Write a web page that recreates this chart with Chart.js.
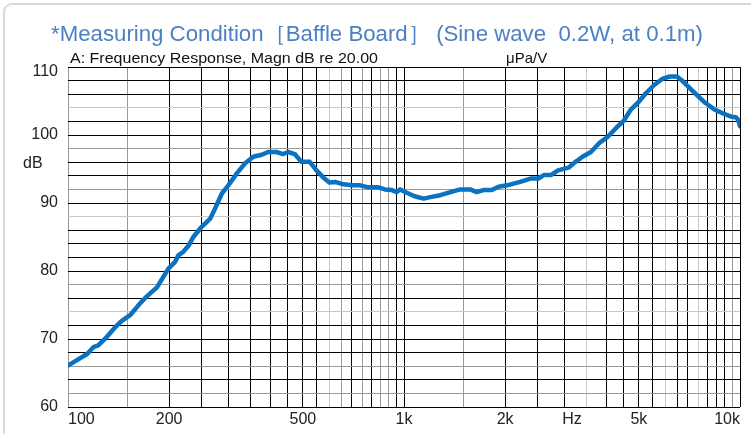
<!DOCTYPE html>
<html>
<head>
<meta charset="utf-8">
<script src="https://cdn.jsdelivr.net/npm/chart.js@4"></script>
<style>
  html, body { margin: 0; padding: 0; background: #fff; }
  #wrap { width: 751px; height: 434px; position: relative; }
</style>
</head>
<body>
<div id="wrap"><canvas id="chartFR"></canvas></div>
<script>
var freqs = [100, 106, 114, 119, 123, 129, 138, 144, 153, 162, 171, 184, 192, 199, 208, 213, 220, 229, 236, 250,
    265, 274, 287, 300, 318, 336, 356, 377, 394, 417, 437, 452, 473, 495, 524, 549, 574, 600, 623, 653,
    700, 741, 783, 838, 877, 920, 951, 973, 1019, 1075, 1144, 1207, 1282, 1375, 1470, 1575, 1645, 1723, 1824, 1911,
    2024, 2218, 2381, 2513, 2608, 2737, 2873, 3088, 3241, 3398, 3600, 3808, 4032, 4273, 4525, 4725, 5003, 5237, 5554, 5893,
    6186, 6490, 6690, 7012, 7433, 7890, 8368, 8875, 9413, 9720, 9880, 10000];
var levels = [66.1, 66.85, 67.8, 68.8, 69.05, 70.05, 71.7, 72.6, 73.5, 74.95, 76.2, 77.6, 79.1, 80.35, 81.3, 82.3, 82.8, 83.8, 85.0, 86.5,
    87.7, 89.2, 91.4, 92.6, 94.35, 95.8, 96.8, 97.1, 97.5, 97.5, 97.2, 97.5, 97.2, 96.05, 96.05, 94.8, 93.8, 93.0, 93.1, 92.8,
    92.6, 92.6, 92.3, 92.3, 92.0, 91.9, 91.6, 92.0, 91.5, 91.0, 90.65, 90.9, 91.15, 91.6, 92.0, 92.0, 91.6, 91.9, 91.9, 92.4,
    92.6, 93.1, 93.6, 93.6, 94.1, 94.1, 94.8, 95.2, 96.05, 96.8, 97.5, 98.8, 99.7, 101.0, 102.2, 103.7, 104.9, 106.1, 107.35, 108.3,
    108.6, 108.6, 108.1, 107.1, 105.9, 104.7, 103.8, 103.2, 102.7, 102.6, 102.2, 101.3];

// x tick labels (value -> text), "Hz" sits between 2k and 5k
var xLabels = {100: '100', 200: '200', 500: '500', 1000: '1k', 2000: '2k', 3162: 'Hz', 5000: '5k', 10000: '10k'};
var yLabels = [60, 70, 80, 90, 100, 110];

// grid: every 50 Hz below 1k, every 500 Hz above
var xGrid = [];
for (var f = 100; f < 1000; f += 50) xGrid.push(f);
for (var f = 1000; f <= 10000; f += 500) xGrid.push(f);

// some grid lines come out grey / light in the scan
var xGrey = [100, 150, 650, 750, 850, 900, 1500, 9500];
var xLight = [600, 3500, 6000, 7500];
var yGrey = [98, 92, 78, 66, 62];
var yLight = [104, 88, 74];

var points = freqs.map(function (f, i) { return {x: f, y: levels[i]}; });

var FONT = "'Liberation Sans', Arial, sans-serif";

var decor = {
    id: 'decor',
    beforeDraw: function (chart) {
        var c = chart.ctx;
        c.save();
        c.fillStyle = '#fff';
        c.fillRect(0, 0, chart.width, chart.height);
        // outer frame, only top/left visible
        c.strokeStyle = '#d9d9d9';
        c.lineWidth = 2;
        c.beginPath();
        c.roundRect(4, 4, 790, 470, 8);
        c.stroke();
        c.restore();
    },
    afterDraw: function (chart) {
        var c = chart.ctx;
        c.save();
        // title, stretched to the width it has in the picture
        var title = '*Measuring Condition［Baffle Board］ (Sine wave  0.2W, at 0.1m)';
        c.font = '22px ' + FONT;
        c.fillStyle = '#4d80c3';
        c.textBaseline = 'alphabetic';
        var w = c.measureText(title).width;
        c.save();
        c.translate(51, 41);
        c.scale(652 / w, 1);
        c.fillText(title, 0, 0);
        c.restore();

        c.font = '15px ' + FONT;
        c.fillStyle = '#111';
        var sub = 'A: Frequency Response, Magn dB re 20.00';
        var sw = c.measureText(sub).width;
        c.save();
        c.translate(70, 63);
        c.scale(308 / sw, 1);
        c.fillText(sub, 0, 0);
        c.restore();
        c.fillText('μPa/V', 506, 63);

        c.font = '16px ' + FONT;
        c.fillStyle = '#222';
        c.fillText('dB', 23, 168);

        // top y label sits a little below its line in the picture
        c.textAlign = 'right';
        c.textBaseline = 'middle';
        c.fillText('110', 58, 72);
        c.restore();
    }
};

var ctx = document.getElementById('chartFR').getContext('2d');
var chart = new Chart(ctx, {
    type: 'line',
    data: {
        datasets: [{
            data: points,
            borderColor: '#0b71c1',
            borderWidth: 4.5,
            pointRadius: 0,
            tension: 0,
            borderJoinStyle: 'round',
            borderCapStyle: 'round',
            fill: false
        }]
    },
    options: {
        responsive: true,
        maintainAspectRatio: false,
        animation: false,
        layout: { padding: { left: 0, top: 67, right: 11, bottom: 0 } },
        plugins: { legend: { display: false }, tooltip: { enabled: false } },
        scales: {
            x: {
                type: 'logarithmic',
                min: 100,
                max: 10000,
                afterBuildTicks: function (scale) {
                    var t = xGrid.slice();
                    t.push(3162);
                    t.sort(function (a, b) { return a - b; });
                    scale.ticks = t.map(function (v) { return {value: v}; });
                },
                afterFit: function (scale) { scale.height = 27; },
                grid: {
                    drawTicks: false,
                    lineWidth: 1,
                    color: function (c) {
                        var v = c.tick ? c.tick.value : 0;
                        if (v === 3162) return 'rgba(0,0,0,0)';
                        if (xLight.indexOf(v) >= 0) return '#c8c8c8';
                        if (xGrey.indexOf(v) >= 0) return '#999';
                        return '#000';
                    }
                },
                border: { display: false },
                ticks: {
                    autoSkip: false,
                    maxRotation: 0,
                    align: 'inner',
                    padding: 3,
                    color: '#222',
                    font: { family: FONT, size: 16 },
                    callback: function (v) { return xLabels[v] || ''; }
                }
            },
            y: {
                min: 60,
                max: 110,
                afterBuildTicks: function (scale) {
                    var t = [];
                    for (var v = 60; v <= 110; v += 2) t.push({value: v});
                    scale.ticks = t;
                },
                afterFit: function (scale) { scale.width = 68; },
                grid: {
                    drawTicks: false,
                    lineWidth: 1,
                    color: function (c) {
                        var v = c.tick ? c.tick.value : 0;
                        if (yLight.indexOf(v) >= 0) return '#c8c8c8';
                        if (yGrey.indexOf(v) >= 0) return '#999';
                        return '#000';
                    }
                },
                border: { display: false },
                ticks: {
                    autoSkip: false,
                    padding: 10,
                    color: '#222',
                    font: { family: FONT, size: 16 },
                    // 110 is drawn by the plugin
                    callback: function (v) { return (yLabels.indexOf(v) >= 0 && v !== 110) ? v : ''; }
                }
            }
        }
    },
    plugins: [decor]
});
</script>
</body>
</html>
